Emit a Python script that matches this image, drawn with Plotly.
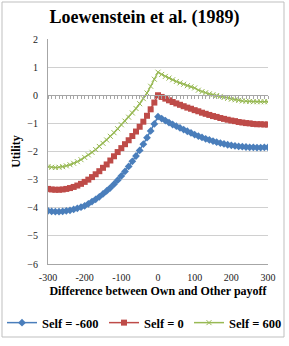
import plotly.graph_objects as go

diff = list(range(-300, 301, 10))

self_m600 = [-4.11, -4.13, -4.14, -4.14, -4.13, -4.11, -4.09, -4.06, -4.02, -3.98,
             -3.93, -3.86, -3.78, -3.70, -3.61, -3.51, -3.40, -3.29, -3.16, -3.02,
             -2.87, -2.71, -2.53, -2.35, -2.16, -1.96, -1.74, -1.51, -1.27, -1.02,
             -0.76,
             -0.83, -0.90, -0.97, -1.04, -1.10, -1.16, -1.22, -1.28, -1.34, -1.40,
             -1.45, -1.50, -1.55, -1.59, -1.63, -1.67, -1.70, -1.73, -1.76, -1.78,
             -1.80, -1.82, -1.83, -1.84, -1.85, -1.85, -1.86, -1.86, -1.85, -1.85]

self_0 = [-3.33, -3.35, -3.36, -3.36, -3.35, -3.33, -3.30, -3.26, -3.21, -3.15,
          -3.08, -3.00, -2.91, -2.81, -2.70, -2.58, -2.46, -2.32, -2.17, -2.02,
          -1.88, -1.74, -1.60, -1.45, -1.29, -1.12, -0.94, -0.73, -0.50, -0.26,
          0.00,
          -0.06, -0.12, -0.18, -0.24, -0.29, -0.34, -0.39, -0.44, -0.48, -0.53,
          -0.57, -0.62, -0.66, -0.70, -0.74, -0.77, -0.81, -0.84, -0.87, -0.90,
          -0.92, -0.95, -0.97, -0.99, -1.00, -1.02, -1.03, -1.03, -1.04, -1.04]

self_600 = [-2.54, -2.56, -2.57, -2.56, -2.54, -2.51, -2.47, -2.42, -2.36, -2.29,
            -2.21, -2.12, -2.03, -1.93, -1.82, -1.71, -1.59, -1.46, -1.33, -1.19,
            -1.05, -0.92, -0.78, -0.63, -0.47, -0.30, -0.12, 0.08, 0.32, 0.57,
            0.82,
            0.74, 0.67, 0.61, 0.55, 0.49, 0.44, 0.39, 0.34, 0.30, 0.26,
            0.18, 0.13, 0.09, 0.05, 0.02, -0.01, -0.04, -0.08, -0.11, -0.14,
            -0.16, -0.18, -0.20, -0.21, -0.22, -0.23, -0.23, -0.23, -0.23, -0.23]

series_names = ["Self = -600", "Self = 0", "Self = 600"]
x_ticks = [-300, -200, -100, 0, 100, 200, 300]
y_ticks = [-6, -5, -4, -3, -2, -1, 0, 1, 2]

FONT = "Liberation Serif"
BLUE = "#4A7EBB"
RED = "#BE4B48"
GREEN = "#98B954"
W, H = 289, 346

fig = go.Figure()
fig.add_trace(go.Scatter(x=diff, y=self_m600, name="<b>%s</b>" % series_names[0],
                         mode="lines+markers", line=dict(color=BLUE, width=1.5), legend="legend",
                         marker=dict(symbol="diamond", size=6, color=BLUE)))
fig.add_trace(go.Scatter(x=diff, y=self_0, name="<b>%s</b>" % series_names[1],
                         mode="lines+markers", line=dict(color=RED, width=1.5), legend="legend2",
                         marker=dict(symbol="square", size=6, color=RED)))
fig.add_trace(go.Scatter(x=diff, y=self_600, name="<b>%s</b>" % series_names[2],
                         mode="lines+markers", line=dict(color=GREEN, width=1.5), legend="legend3",
                         marker=dict(symbol="x-thin", size=5, color=GREEN,
                                     line=dict(color=GREEN, width=1))))
# invisible trace for the secondary x-axis (tick marks along y=0)
fig.add_trace(go.Scatter(x=[-300, 300], y=[0, 0], xaxis="x2", mode="lines",
                         line=dict(width=0), showlegend=False, hoverinfo="skip"))

leg_font = dict(size=12.5, family=FONT, color="#000000")
def leg(xpx):
    return dict(orientation="h", x=xpx / W, xref="container", xanchor="left",
                y=1 - 323 / H, yref="container", yanchor="middle",
                font=leg_font, itemwidth=30, bgcolor="rgba(0,0,0,0)", borderwidth=0)

fig.update_layout(
    width=W, height=H,
    margin=dict(l=48, r=21, t=39, b=82),
    paper_bgcolor="white", plot_bgcolor="white",
    font=dict(family=FONT, color="#000000"),
    title=dict(text="<b>Loewenstein et al. (1989)</b>", x=0.5, xref="container",
               xanchor="center", y=1 - 17 / H, yref="container", yanchor="middle",
               font=dict(size=18, family=FONT, color="#000000")),
    showlegend=True,
    legend=leg(2), legend2=leg(104), legend3=leg(189),
    xaxis=dict(range=[-300, 300], tickvals=x_ticks, ticktext=[str(v) for v in x_ticks],
               showgrid=False, zeroline=False, showline=True, linecolor="#A6A6A6",
               linewidth=1, ticks="", ticklabelstandoff=4,
               tickfont=dict(size=10, family=FONT, color="#222222"),
               title=dict(text="<b>Difference between Own and Other payoff</b>",
                          font=dict(size=12, family=FONT, color="#000000"), standoff=4)),
    xaxis2=dict(range=[-300, 300], overlaying="x", anchor="free", position=0.75,
                side="bottom", showline=True, linecolor="#A6A6A6", linewidth=1,
                ticks="outside", ticklen=3, tickcolor="#A6A6A6", dtick=10, tick0=-300,
                showticklabels=False, showgrid=False, zeroline=False),
    yaxis=dict(range=[-6, 2], tickvals=y_ticks, showgrid=True, gridcolor="#D0D0D0",
               gridwidth=1, zeroline=False, showline=True, linecolor="#A6A6A6",
               ticks="", ticklabelstandoff=7,
               tickfont=dict(size=10, family=FONT, color="#222222"),
               title=dict(text="<b>Utility</b>", font=dict(size=12, family=FONT, color="#000000"),
                          standoff=4)),
)

# outer chart border
fig.add_shape(type="rect", xref="paper", yref="paper",
              x0=(2 - 48) / 220, x1=(284 - 48) / 220,
              y0=(264 - 337) / 225, y1=(264 - 2) / 225,
              line=dict(color="#BFBFBF", width=1), fillcolor="rgba(0,0,0,0)", layer="below")

fig.write_html("out.html")
